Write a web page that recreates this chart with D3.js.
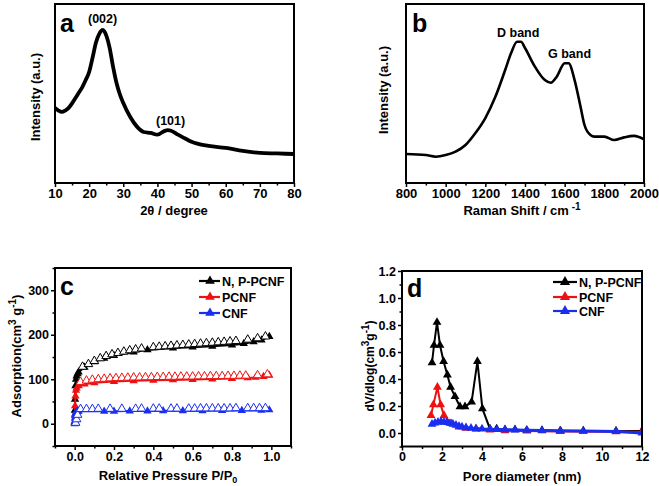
<!DOCTYPE html>
<html><head><meta charset="utf-8">
<script src="https://cdn.jsdelivr.net/npm/d3@7"></script>
<style>
body{margin:0;background:#fff}
svg{display:block}
text{font-family:"Liberation Sans",Arial,sans-serif;font-weight:bold;fill:#000}
</style>
</head><body>
<svg id="fig" width="659" height="486"></svg>
<script>
// ---------- Panel a : XRD ----------
const xrdTheta = [10,11,12,13,14,15,16,17,18,19,20,21,22,23,24,25,26,27,28,29,30,32,34,36,38,40,42,43,44,46,48,50,55,60,65,70,75,80];
const xrdIntensity = [42,40.5,39.7,40.5,42,44.5,47.5,50.5,53.6,57.5,62,70,78.5,83.5,85.5,82.5,75.5,65,56,49.5,44.7,37,31.5,28.5,28,27,29,29.5,29.2,27,25,23,20.7,19.6,17.9,16.8,16.5,16.2];
const xrdTicks = [10,20,30,40,50,60,70,80];
const xrdMinor = [15,25,35,45,55,65,75];

// ---------- Panel b : Raman ----------
const ramanShift = [800,900,950,1000,1050,1100,1150,1200,1250,1300,1330,1360,1380,1400,1450,1500,1530,1560,1600,1620,1650,1680,1700,1730,1750,1800,1850,1900,1950,2000];
const ramanIntensity = [16.2,15.6,14.7,15.6,17.5,21.2,27.9,36.3,48,63.1,72.6,78.9,78.9,75.4,65,57.5,56,59.4,66.9,66.9,57.5,42.6,32.4,26.8,25.9,25.9,24,25.5,26.3,24.4];
const ramanTicks = [800,1000,1200,1400,1600,1800,2000];
const ramanMinor = [900,1100,1300,1500,1700,1900];

// ---------- Panel c : N2 isotherms ----------
const npPcnfAdsP = [0,0.001,0.002,0.004,0.007,0.01,0.015,0.02,0.05,0.1,0.15,0.2,0.3,0.37,0.5,0.6,0.7,0.8,0.86,0.91,0.95,0.99];
const npPcnfAdsV = [3,30,55,85,100,107,112,116,127,139,147,153,161,166,170,172,174,177,180,184,188,196];
const npPcnfDesP = [0.04,0.07,0.10,0.13,0.16,0.19,0.22,0.25,0.28,0.31,0.34,0.40,0.43,0.46,0.49,0.52,0.55,0.58,0.61,0.64,0.67,0.70,0.73,0.76,0.79,0.82,0.88,0.93,0.97];
const npPcnfDesV = [128,134,141,147,152,156,159,162,165,167,169,172,173,174,175,176,177,178,179,180,181,182,183,184,185,186,189,192,196];

const pcnfAdsP = [0,0.001,0.002,0.004,0.007,0.01,0.02,0.05,0.1,0.2,0.3,0.4,0.5,0.6,0.7,0.8,0.88,0.92,0.96,0.99];
const pcnfAdsV = [2,20,40,62,75,80,85,89,92,95,96.5,97.5,98.5,99.5,100.5,101.5,103,104,106,109];
const pcnfDesP = [0.03,0.06,0.09,0.12,0.15,0.18,0.21,0.24,0.27,0.30,0.33,0.36,0.39,0.42,0.45,0.48,0.51,0.54,0.57,0.60,0.63,0.66,0.69,0.72,0.75,0.78,0.81,0.84,0.87,0.93,0.98];
const pcnfDesV = [94,97,99,100,101,102,102.5,103,103.5,104,104,104.5,104.5,105,105,105.5,105.5,106,106,106,106.5,106.5,107,107,107,107.5,107.5,108,108,109,111];

const cnfAdsP = [0,0.0005,0.001,0.002,0.004,0.007,0.01,0.015,0.02,0.15,0.2,0.28,0.37,0.45,0.55,0.65,0.75,0.85,0.95,0.99];
const cnfAdsV = [0,6,12,18,23,26,27,27.5,28,28,28,28.5,28.5,29,29,29,29.5,29.5,30,31];
const cnfDesP = [0.005,0.01,0.015,0.03,0.06,0.09,0.12,0.18,0.24,0.31,0.34,0.40,0.43,0.49,0.52,0.58,0.61,0.64,0.67,0.70,0.73,0.76,0.79,0.82,0.88,0.91,0.94,0.97];
const cnfDesV = [2,10,20,33,33,33,33.5,33.5,33.5,33.5,34,34,34,34,34,34,34,34.5,34.5,34.5,34.5,34.5,34.5,35,35,35,35,35];

const isoXTicks = [0,0.2,0.4,0.6,0.8,1.0];
const isoXMinor = [-0.1,0.1,0.3,0.5,0.7,0.9,1.1];
const isoYTicks = [0,100,200,300];
const isoYMinor = [-50,50,150,250,350];

// ---------- Panel d : pore size distribution ----------
const npPoreD = [1.5,1.6,1.75,1.9,2.08,2.27,2.43,2.65,2.9,3.15,3.48,3.77,4.02,4.4,4.73,5.15,5.65,6.23,7.0,7.93,9.07,10.7,12.0];
const npPoreV = [0.52,0.65,0.82,0.65,0.53,0.43,0.34,0.27,0.195,0.195,0.23,0.53,0.18,0.03,0.03,0.025,0.025,0.02,0.02,0.015,0.015,0.015,0.015];
const pcnfPoreD = [1.45,1.57,1.77,1.93,2.1,2.48,2.85,3.2,3.7,4.4,5.15,6.25,7.9,10.7,12.0];
const pcnfPoreV = [0.13,0.21,0.34,0.21,0.13,0.07,0.045,0.035,0.028,0.022,0.018,0.015,0.012,0.01,0.01];
const cnfPoreD = [1.5,1.65,1.8,1.95,2.1,2.25,2.4,2.55,2.7,2.85,3.0,3.2,3.45,3.7,4.0,4.4,4.75,5.15,5.65,6.25,7.0,7.9,9.05,10.7,12.0];
const cnfPoreV = [0.065,0.075,0.08,0.085,0.08,0.078,0.072,0.066,0.058,0.05,0.045,0.04,0.036,0.033,0.03,0.028,0.026,0.024,0.022,0.02,0.018,0.016,0.014,0.012,0.0];
const poreXTicks = [0,2,4,6,8,10,12];
const poreXMinor = [1,3,5,7,9,11];
const poreYTicks = [0,0.2,0.4,0.6,0.8,1.0,1.2];
const poreYMinor = [-0.1,0.1,0.3,0.5,0.7,0.9,1.1];

const seriesNames = ["N, P-PCNF","PCNF","CNF"];
const seriesColors = ["#000000","#ee1111","#1a2ef0"];

const FONT = '"Liberation Sans",Arial,sans-serif';
const svg = d3.select('#fig');

function styleAxis(g, fs){
  g.attr('font-family', FONT).attr('font-size', fs).attr('font-weight','bold');
  g.select('.domain').remove();
  g.selectAll('.tick line').attr('stroke','#000').attr('stroke-width',1.5);
  g.selectAll('.tick text').attr('fill','#000');
}
function frame(x, y){
  const [x0,x1] = x.range(), [y1,y0] = y.range();
  svg.append('rect').attr('x',x0).attr('y',y0).attr('width',x1-x0).attr('height',y1-y0)
    .attr('fill','none').attr('stroke','#000').attr('stroke-width',2);
}
function xAxis(x, y, major, minor, fmt, fs){
  const yb = y.range()[0];
  const g1 = svg.append('g').attr('transform',`translate(0,${yb})`)
    .call(d3.axisBottom(x).tickValues(major).tickSize(4).tickPadding(2).tickFormat(fmt));
  styleAxis(g1, fs);
  const g2 = svg.append('g').attr('transform',`translate(0,${yb})`)
    .call(d3.axisBottom(x).tickValues(minor).tickSize(2.5).tickFormat(''));
  styleAxis(g2, fs);
}
function yAxis(x, y, major, minor, fmt, fs){
  const xl = x.range()[0];
  const g1 = svg.append('g').attr('transform',`translate(${xl},0)`)
    .call(d3.axisLeft(y).tickValues(major).tickSize(4).tickPadding(2).tickFormat(fmt));
  styleAxis(g1, fs);
  const g2 = svg.append('g').attr('transform',`translate(${xl},0)`)
    .call(d3.axisLeft(y).tickValues(minor).tickSize(2.5).tickFormat(''));
  styleAxis(g2, fs);
}
function clipFor(id, x, y){
  const [x0,x1] = x.range(), [y1,y0] = y.range();
  svg.append('clipPath').attr('id',id).append('rect').attr('x',x0).attr('y',y0).attr('width',x1-x0).attr('height',y1-y0);
  return svg.append('g').attr('clip-path',`url(#${id})`);
}
function label(txt, x, y, fs, anchor){
  return svg.append('text').attr('x',x).attr('y',y).attr('font-size',fs).attr('text-anchor',anchor||'start').text(txt);
}
const tri = s => d3.symbol(d3.symbolTriangle, s)();

// ===== Panel a =====
const xA = d3.scaleLinear().domain([10,80]).range([55,294]);
const yA = d3.scaleLinear().domain([0,100]).range([183,4]);
xAxis(xA, yA, xrdTicks, xrdMinor, d3.format('d'), 13);
svg.append('path').datum(xrdTheta.map((t,i)=>[t,xrdIntensity[i]]))
  .attr('d', d3.line().x(d=>xA(d[0])).y(d=>yA(d[1])).curve(d3.curveMonotoneX))
  .attr('fill','none').attr('stroke','#000').attr('stroke-width',3.8).attr('stroke-linejoin','round');
frame(xA, yA);
label('a', 60, 32, 25);
label('(002)', 88, 23, 12.5);
label('(101)', 156, 125, 12.5);
label('2θ / degree', 174, 215, 13, 'middle');
svg.append('text').attr('transform','translate(40,97) rotate(-90)').attr('text-anchor','middle').attr('font-size',13).text('Intensity (a.u.)');

// ===== Panel b =====
const xB = d3.scaleLinear().domain([800,2000]).range([406,644]);
const yB = d3.scaleLinear().domain([0,100]).range([183,4]);
xAxis(xB, yB, ramanTicks, ramanMinor, d3.format('d'), 13);
svg.append('path').datum(ramanShift.map((t,i)=>[t,ramanIntensity[i]]))
  .attr('d', d3.line().x(d=>xB(d[0])).y(d=>yB(d[1])).curve(d3.curveMonotoneX))
  .attr('fill','none').attr('stroke','#000').attr('stroke-width',2.6).attr('stroke-linejoin','round');
frame(xB, yB);
label('b', 412, 32, 25);
label('D band', 497, 37, 12.5);
label('G band', 548, 58, 12.5);
{
  const t = label('Raman Shift / cm', 522, 215, 13, 'middle');
  t.append('tspan').attr('dy',-5).attr('font-size',10).text(' -1');
}
svg.append('text').attr('transform','translate(388,90) rotate(-90)').attr('text-anchor','middle').attr('font-size',13).text('Intensity (a.u.)');

// ===== Panel c =====
const xC = d3.scaleLinear().domain([-0.1,1.1]).range([55,291]);
const yC = d3.scaleLinear().domain([-50,350]).range([446,268]);
xAxis(xC, yC, isoXTicks, isoXMinor, d3.format('.1f'), 12.5);
yAxis(xC, yC, isoYTicks, isoYMinor, d3.format('d'), 12.5);
const gC = clipFor('clipC', xC, yC);
const isoSets = [
  {ap:npPcnfAdsP, av:npPcnfAdsV, dp:npPcnfDesP, dv:npPcnfDesV},
  {ap:pcnfAdsP, av:pcnfAdsV, dp:pcnfDesP, dv:pcnfDesV},
  {ap:cnfAdsP, av:cnfAdsV, dp:cnfDesP, dv:cnfDesV}
];
isoSets.forEach((s,k)=>{
  const col = seriesColors[k];
  const ads = s.ap.map((p,i)=>[p,s.av[i]]);
  const des = s.dp.map((p,i)=>[p,s.dv[i]]);
  gC.append('path').datum(ads)
    .attr('d', d3.line().x(d=>xC(d[0])).y(d=>yC(d[1])))
    .attr('fill','none').attr('stroke',col).attr('stroke-width',2);
  gC.selectAll(null).data(ads).enter().append('path')
    .attr('transform',d=>`translate(${xC(d[0])},${yC(d[1])})`)
    .attr('d', tri(30)).attr('fill',col);
  gC.selectAll(null).data(des).enter().append('path')
    .attr('transform',d=>`translate(${xC(d[0])},${yC(d[1])})`)
    .attr('d', tri(32)).attr('fill','#fff').attr('stroke',col).attr('stroke-width',1);
});
frame(xC, yC);
label('c', 60, 295, 25);
seriesNames.forEach((n,k)=>{
  const yy = [281,297,313][k];
  svg.append('line').attr('x1',199).attr('x2',220).attr('y1',yy).attr('y2',yy).attr('stroke',seriesColors[k]).attr('stroke-width',2.2);
  svg.append('path').attr('transform',`translate(210,${yy})`).attr('d',tri(40)).attr('fill',seriesColors[k]);
  label(n, 222, yy+4.5, 12.5);
});
{
  const t = label('Relative Pressure P/P', 168, 480, 13, 'middle');
  t.append('tspan').attr('dy',3).attr('font-size',9).text('0');
}
{
  const t = svg.append('text').attr('transform','translate(21,356) rotate(-90)').attr('text-anchor','middle').attr('font-size',13);
  t.append('tspan').text('Adsorption(cm');
  t.append('tspan').attr('dy',-5).attr('font-size',10).text('3');
  t.append('tspan').attr('dy',5).text(' g');
  t.append('tspan').attr('dy',-5).attr('font-size',10).text('-1');
  t.append('tspan').attr('dy',5).text(')');
}

// ===== Panel d =====
const xD = d3.scaleLinear().domain([0,12]).range([402,642]);
const yD = d3.scaleLinear().domain([-0.1,1.2]).range([446.5,271]);
xAxis(xD, yD, poreXTicks, poreXMinor, d3.format('d'), 12.5);
yAxis(xD, yD, poreYTicks, poreYMinor, d3.format('.1f'), 12.5);
const gD = clipFor('clipD', xD, yD);
const poreSets = [
  {d:npPoreD, v:npPoreV, w:2},
  {d:pcnfPoreD, v:pcnfPoreV, w:2},
  {d:cnfPoreD, v:cnfPoreV, w:3}
];
poreSets.forEach((s,k)=>{
  const col = seriesColors[k];
  const pts = s.d.map((p,i)=>[p,s.v[i]]);
  gD.append('path').datum(pts)
    .attr('d', d3.line().x(d=>xD(d[0])).y(d=>yD(d[1])))
    .attr('fill','none').attr('stroke',col).attr('stroke-width',s.w);
  gD.selectAll(null).data(pts).enter().append('path')
    .attr('transform',d=>`translate(${xD(d[0])},${yD(d[1])})`)
    .attr('d', tri(34)).attr('fill',col);
});
frame(xD, yD);
label('d', 407, 297, 25);
seriesNames.forEach((n,k)=>{
  const yy = [282,297,311][k];
  svg.append('line').attr('x1',553).attr('x2',577).attr('y1',yy).attr('y2',yy).attr('stroke',seriesColors[k]).attr('stroke-width',2.2);
  svg.append('path').attr('transform',`translate(565,${yy})`).attr('d',tri(45)).attr('fill',seriesColors[k]);
  label(n, 579, yy+4.5, 12.5);
});
label('Pore diameter (nm)', 522, 481, 13, 'middle');
{
  const t = svg.append('text').attr('transform','translate(374,366) rotate(-90)').attr('text-anchor','middle').attr('font-size',12);
  t.append('tspan').text('dV/dlog(cm');
  t.append('tspan').attr('dy',-5).attr('font-size',10).text('3');
  t.append('tspan').attr('dy',5).text('g');
  t.append('tspan').attr('dy',-5).attr('font-size',10).text('-1');
  t.append('tspan').attr('dy',5).text(')');
}
</script>
</body></html>
